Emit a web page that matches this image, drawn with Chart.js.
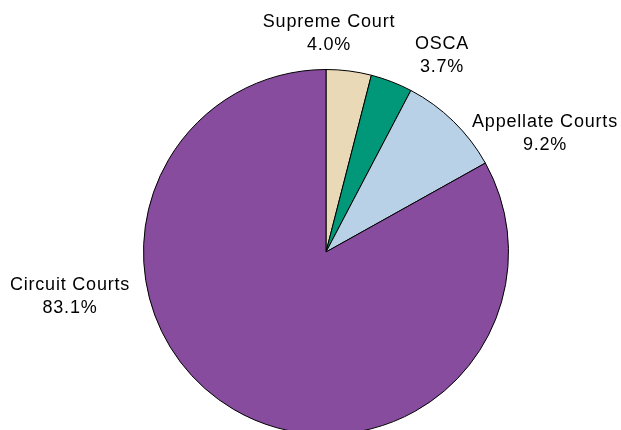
<!DOCTYPE html>
<html>
<head>
<meta charset="utf-8">
<script src="https://cdn.jsdelivr.net/npm/chart.js@4"></script>
<style>
html,body{margin:0;padding:0;background:#fff;overflow:hidden;}
#wrap{width:621px;height:430px;overflow:hidden;position:relative;}
canvas{display:block;}
</style>
</head>
<body>
<div id="wrap"><canvas id="c" width="621" height="440"></canvas></div>
<script>
const categories = ["Supreme Court", "OSCA", "Appellate Courts", "Circuit Courts"];
const shares = [4.0, 3.7, 9.2, 83.1];
const shareLabels = ["4.0%", "3.7%", "9.2%", "83.1%"];
const colors = ["#E9D9B7", "#009878", "#B9D1E6", "#884C9F"];

// label placement relative to pie centre (in pixels)
const labelOffsets = [[3, -225], [116, -203], [219, -125], [-256, 38]];

const labelPlugin = {
  id: 'sliceLabels',
  afterDraw(chart) {
    const ctx = chart.ctx;
    const arcs = chart.getDatasetMeta(0).data;
    if (!arcs.length) return;
    const cx = arcs[0].x, cy = arcs[0].y;
    ctx.save();
    ctx.fillStyle = '#000';
    ctx.font = '18px "Liberation Sans", Arial, sans-serif';
    if ('letterSpacing' in ctx) ctx.letterSpacing = '0.8px';
    ctx.textAlign = 'center';
    ctx.textBaseline = 'alphabetic';
    categories.forEach((name, i) => {
      const x = cx + labelOffsets[i][0];
      const y = cy + labelOffsets[i][1];
      ctx.fillText(name, x, y);
      ctx.fillText(shareLabels[i], x, y + 23);
    });
    ctx.restore();
  }
};

new Chart(document.getElementById('c'), {
  type: 'pie',
  data: {
    labels: categories,
    datasets: [{
      data: shares,
      backgroundColor: colors,
      borderColor: '#000',
      borderWidth: 1,
      borderAlign: 'center'
    }]
  },
  options: {
    responsive: false,
    animation: false,
    devicePixelRatio: 1,
    rotation: 0,
    layout: { padding: { top: 69, bottom: 5, left: 143, right: 112 } },
    plugins: {
      legend: { display: false },
      tooltip: { enabled: false },
      title: { display: false }
    }
  },
  plugins: [labelPlugin]
});
</script>
</body>
</html>
